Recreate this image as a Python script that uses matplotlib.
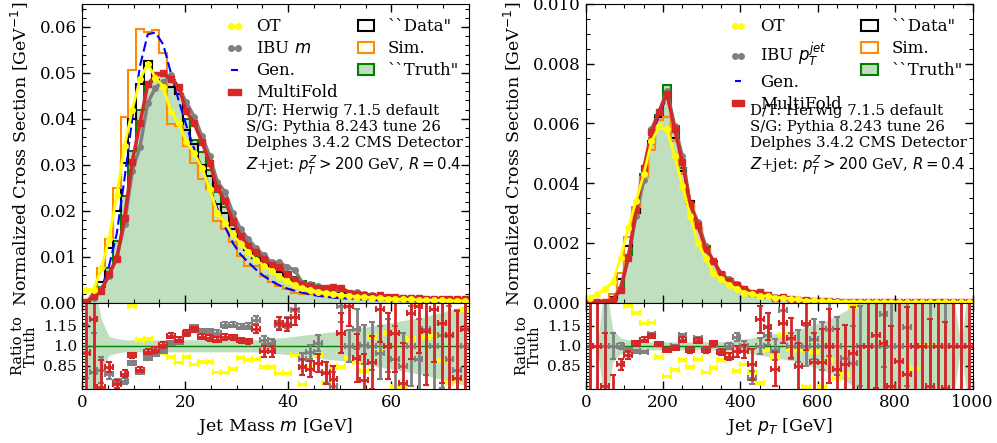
import matplotlib
matplotlib.use("Agg")
import matplotlib.pyplot as plt
import numpy as np
from matplotlib.patches import Patch
from matplotlib.lines import Line2D
from matplotlib.ticker import AutoMinorLocator, MultipleLocator, FixedLocator

plt.rcParams['font.family'] = ['DejaVu Serif']
plt.rcParams['mathtext.fontset'] = 'dejavusans'
plt.rcParams['xtick.direction'] = 'in'
plt.rcParams['ytick.direction'] = 'in'
plt.rcParams['xtick.top'] = True
plt.rcParams['ytick.right'] = True

# ---------------- jet mass (50 bins of 1.5 GeV) ----------------
m_edges = np.linspace(0, 75, 51)

truth_m = [0.0002, 0.0012, 0.0035, 0.0075, 0.0135, 0.0233, 0.0330, 0.0420, 0.0480, 0.0500,
           0.0500, 0.0485, 0.0455, 0.0400, 0.0355, 0.0327, 0.0288, 0.0240, 0.0208, 0.0168,
           0.0140, 0.0120, 0.0100, 0.0098, 0.0086, 0.0076, 0.0066, 0.0056, 0.0048, 0.0042,
           0.0036, 0.0032, 0.0028, 0.0025, 0.0022, 0.0020, 0.0018, 0.0016, 0.0014, 0.0013,
           0.0012, 0.0011, 0.0010, 0.0009, 0.0008, 0.0008, 0.0007, 0.0007, 0.0006, 0.0006]
data_m = [0.0003, 0.0015, 0.0045, 0.0120, 0.0200, 0.0305, 0.0400, 0.0475, 0.0525, 0.0485,
          0.0478, 0.0470, 0.0455, 0.0375, 0.0345, 0.0300, 0.0275, 0.0215, 0.0195, 0.0160,
          0.0132, 0.0115, 0.0098, 0.0085, 0.0075, 0.0066, 0.0058, 0.0050, 0.0043, 0.0038,
          0.0033, 0.0029, 0.0026, 0.0023, 0.0020, 0.0018, 0.0016, 0.0014, 0.0013, 0.0012,
          0.0011, 0.0010, 0.0009, 0.0008, 0.0008, 0.0007, 0.0007, 0.0006, 0.0006, 0.0005]
sim_m = [0.0005, 0.0015, 0.0075, 0.0138, 0.0250, 0.0405, 0.0507, 0.0596, 0.0590, 0.0593,
         0.0543, 0.0388, 0.0385, 0.0340, 0.0305, 0.0270, 0.0247, 0.0178, 0.0160, 0.0131,
         0.0102, 0.0080, 0.0080, 0.0059, 0.0046, 0.0037, 0.0030, 0.0022, 0.0020, 0.0018,
         0.0016, 0.0014, 0.0012, 0.0011, 0.0010, 0.0009, 0.0008, 0.0007, 0.0007, 0.0006,
         0.0006, 0.0005, 0.0005, 0.0004, 0.0004, 0.0003, 0.0003, 0.0003, 0.0002, 0.0002]
gen_m = [0.0002, 0.0008, 0.0030, 0.0080, 0.0150, 0.0270, 0.0400, 0.0515, 0.0584, 0.0588,
         0.0562, 0.0500, 0.0440, 0.0385, 0.0335, 0.0295, 0.0250, 0.0205, 0.0165, 0.0130,
         0.0105, 0.0088, 0.0072, 0.0058, 0.0047, 0.0038, 0.0031, 0.0026, 0.0022, 0.0018,
         0.0015, 0.0013, 0.0011, 0.0010, 0.0009, 0.0008, 0.0007, 0.0006, 0.0005, 0.0005,
         0.0004, 0.0004, 0.0003, 0.0003, 0.0003, 0.0002, 0.0002, 0.0002, 0.0002, 0.0002]
ot_m = [0.0028, 0.0028, 0.0075, 0.0138, 0.0235, 0.0340, 0.0420, 0.0486, 0.0520, 0.0490,
        0.0470, 0.0416, 0.0390, 0.0350, 0.0325, 0.0294, 0.0247, 0.0196, 0.0173, 0.0149,
        0.0128, 0.0110, 0.0093, 0.0080, 0.0070, 0.0055, 0.0048, 0.0038, 0.0031, 0.0028,
        0.0024, 0.0021, 0.0019, 0.0017, 0.0015, 0.0013, 0.0012, 0.0011, 0.0010, 0.0009,
        0.0008, 0.0007, 0.0007, 0.0006, 0.0006, 0.0005, 0.0005, 0.0004, 0.0004, 0.0004]
ibu_m = [0.0002, 0.0010, 0.0029, 0.0059, 0.0099, 0.0171, 0.0287, 0.0339, 0.0435, 0.0468,
         0.0480, 0.0495, 0.0467, 0.0436, 0.0405, 0.0363, 0.0320, 0.0263, 0.0241, 0.0195,
         0.0160, 0.0138, 0.0119, 0.0103, 0.0088, 0.0088, 0.0078, 0.0071, 0.0043, 0.0040,
         0.0037, 0.0026, 0.0020, 0.0033, 0.0022, 0.0023, 0.0018, 0.0016, 0.0013, 0.0013,
         0.0011, 0.0009, 0.0010, 0.0008, 0.0009, 0.0008, 0.0008, 0.0006, 0.0005, 0.0006]
multifold_m = [0.0002, 0.0014, 0.0025, 0.0063, 0.0096, 0.0184, 0.0307, 0.0390, 0.0475, 0.0495,
               0.0500, 0.0486, 0.0470, 0.0417, 0.0390, 0.0350, 0.0305, 0.0249, 0.0222, 0.0178,
               0.0146, 0.0124, 0.0110, 0.0096, 0.0083, 0.0077, 0.0062, 0.0050, 0.0040, 0.0036,
               0.0031, 0.0031, 0.0035, 0.0033, 0.0022, 0.0019, 0.0016, 0.0015, 0.0016, 0.0013,
               0.0012, 0.0011, 0.0011, 0.0010, 0.0009, 0.0009, 0.0008, 0.0008, 0.0007, 0.0007]

# ratio to truth (jet mass)
band_m = [0.60, 0.50, 0.20, 0.07, 0.055, 0.045, 0.045, 0.045, 0.045, 0.045,
          0.045, 0.045, 0.045, 0.045, 0.045, 0.045, 0.045, 0.045, 0.045, 0.045,
          0.045, 0.045, 0.045, 0.050, 0.055, 0.060, 0.065, 0.070, 0.080, 0.085,
          0.090, 0.100, 0.105, 0.110, 0.120, 0.130, 0.140, 0.150, 0.160, 0.170,
          0.180, 0.190, 0.200, 0.210, 0.220, 0.240, 0.250, 0.270, 0.280, 0.300]
ot_ratio_m = [1.5, 1.5, 1.5, 1.5, 1.5, 1.45, 1.30, 1.047, 1.054, 0.966,
              0.95, 0.92, 0.875, 0.92, 0.862, 0.882, 0.882, 0.80, 0.80, 0.825,
              0.91, 0.894, 0.90, 0.84, 0.84, 0.793, 0.793, 0.93, 0.71, 0.835,
              0.934, 0.72, 0.84, 0.84, 0.91, 0.875, 0.81, 1.07, 0.966, 1.096,
              0.69, 0.69, 1.05, 1.30, 1.07, 1.08, 0.89, 0.72, 0.74, 1.27]
ibu_ratio_m = [0.956, 0.80, 0.82, 0.79, 0.73, 0.735, 0.87, 0.806, 0.907, 0.936,
               0.96, 1.02, 1.027, 1.09, 1.14, 1.11, 1.11, 1.096, 1.157, 1.16,
               1.145, 1.15, 1.194, 1.047, 1.02, 1.157, 1.175, 1.27, 0.90, 0.953,
               1.02, 0.80, 0.70, 1.30, 1.00, 1.13, 1.01, 1.00, 0.95, 1.00,
               0.90, 0.85, 1.00, 0.90, 1.13, 1.00, 1.08, 0.90, 0.82, 1.00]
ibu_err_m = [0.20, 0.30, 0.10, 0.04, 0.02, 0.02, 0.015, 0.015, 0.015, 0.015,
             0.015, 0.015, 0.015, 0.015, 0.015, 0.02, 0.02, 0.02, 0.02, 0.02,
             0.02, 0.02, 0.03, 0.03, 0.03, 0.03, 0.04, 0.05, 0.05, 0.05,
             0.06, 0.08, 0.10, 0.12, 0.12, 0.15, 0.15, 0.18, 0.20, 0.20,
             0.25, 0.25, 0.30, 0.30, 0.35, 0.35, 0.40, 0.40, 0.45, 0.45]
mf_ratio_m = [0.95, 1.20, 0.69, 0.84, 0.71, 0.79, 0.93, 0.82, 0.956, 0.97,
              1.007, 1.076, 1.047, 1.096, 1.125, 1.07, 1.06, 1.047, 1.066, 1.065,
              1.042, 1.034, 1.125, 0.96, 0.96, 1.17, 1.16, 1.22, 0.84, 0.825,
              0.87, 0.796, 0.75, 1.096, 1.30, 0.91, 0.74, 0.875, 1.28, 1.00,
              1.10, 0.72, 1.25, 1.30, 1.108, 1.28, 1.17, 1.08, 0.76, 1.125]
mf_err_m = [0.50, 0.60, 0.20, 0.04, 0.03, 0.025, 0.02, 0.02, 0.02, 0.02,
            0.02, 0.02, 0.02, 0.02, 0.02, 0.02, 0.02, 0.02, 0.02, 0.02,
            0.02, 0.02, 0.03, 0.04, 0.04, 0.05, 0.05, 0.06, 0.06, 0.06,
            0.07, 0.08, 0.10, 0.15, 0.15, 0.18, 0.20, 0.20, 0.25, 0.25,
            0.30, 0.30, 0.35, 0.35, 0.40, 0.40, 0.45, 0.45, 0.50, 0.50]

# ---------------- jet pT (50 bins of 20 GeV) ----------------
pt_edges = np.linspace(0, 1000, 51)

truth_pt = [0.0, 0.0, 0.00002, 0.0001, 0.0005, 0.0016, 0.0030, 0.0043, 0.0053, 0.0063,
            0.0073, 0.0059, 0.0045, 0.0034, 0.0025, 0.0019, 0.0014, 0.0010, 0.00078, 0.0006,
            0.00047, 0.00037, 0.0003, 0.00024, 0.00019, 0.00016, 0.00013, 0.00011, 0.00009, 0.00008,
            0.00007, 0.00006, 0.00005, 0.00004, 0.00004, 0.00003, 0.00003, 0.00002, 0.00002, 0.00002,
            0.00002, 0.00001, 0.00001, 0.00001, 0.00001, 0.00001, 0.00001, 0.00001, 0.00001, 0.00001]
data_pt = [0.0, 0.0, 0.00005, 0.0002, 0.0008, 0.0019, 0.0030, 0.0042, 0.0054, 0.0062,
           0.0062, 0.0055, 0.0044, 0.0034, 0.0025, 0.0018, 0.0013, 0.0010, 0.00075, 0.00058,
           0.00045, 0.00036, 0.00029, 0.00023, 0.00019, 0.00015, 0.00012, 0.0001, 0.00009, 0.00007,
           0.00006, 0.00005, 0.00004, 0.00004, 0.00003, 0.00003, 0.00002, 0.00002, 0.00002, 0.00002,
           0.00001, 0.00001, 0.00001, 0.00001, 0.00001, 0.00001, 0.00001, 0.00001, 0.00001, 0.00001]
sim_pt = [0.0, 0.0, 0.00005, 0.0003, 0.0010, 0.0022, 0.0032, 0.0042, 0.0051, 0.0061,
          0.0062, 0.0054, 0.0043, 0.0033, 0.0025, 0.0018, 0.0013, 0.0010, 0.00075, 0.00058,
          0.00045, 0.00036, 0.00029, 0.00023, 0.00019, 0.00015, 0.00012, 0.0001, 0.00009, 0.00007,
          0.00006, 0.00005, 0.00004, 0.00004, 0.00003, 0.00003, 0.00002, 0.00002, 0.00002, 0.00002,
          0.00001, 0.00001, 0.00001, 0.00001, 0.00001, 0.00001, 0.00001, 0.00001, 0.00001, 0.00001]
gen_pt = [0.0, 0.0, 0.00002, 0.0001, 0.0005, 0.0015, 0.0030, 0.0044, 0.0055, 0.0063,
          0.0069, 0.0059, 0.0046, 0.0034, 0.0025, 0.0019, 0.0014, 0.0010, 0.00078, 0.0006,
          0.00047, 0.00037, 0.0003, 0.00024, 0.00019, 0.00016, 0.00013, 0.00011, 0.00009, 0.00008,
          0.00007, 0.00006, 0.00005, 0.00004, 0.00004, 0.00003, 0.00003, 0.00002, 0.00002, 0.00002,
          0.00002, 0.00001, 0.00001, 0.00001, 0.00001, 0.00001, 0.00001, 0.00001, 0.00001, 0.00001]
ot_pt = [0.00017, 0.0003, 0.00045, 0.0007, 0.0015, 0.0025, 0.0034, 0.0043, 0.0054, 0.0059,
         0.0058, 0.0049, 0.0039, 0.0029, 0.0020, 0.0015, 0.0010, 0.00078, 0.0006, 0.00047,
         0.00034, 0.0003, 0.00022, 0.00023, 0.00017, 0.00017, 0.00013, 0.00011, 0.00006, 0.00008,
         0.00005, 0.00005, 0.00004, 0.00003, 0.00004, 0.00002, 0.00002, 0.00002, 0.00002, 0.00002,
         0.00001, 0.00001, 0.00001, 0.00001, 0.00001, 0.00001, 0.00001, 0.00001, 0.00001, 0.00001]
ibu_pt = [0.0, 0.0, 0.00002, 0.0001, 0.0005, 0.00155, 0.0029, 0.0041, 0.0058, 0.0064,
          0.0071, 0.0059, 0.0049, 0.0033, 0.0027, 0.0019, 0.0014, 0.00096, 0.00078, 0.00064,
          0.00047, 0.00028, 0.0003, 0.00026, 0.00018, 0.0002, 0.00013, 0.00011, 0.00009, 0.00008,
          0.00007, 0.00007, 0.00005, 0.00004, 0.00003, 0.00003, 0.00003, 0.00002, 0.00002, 0.00002,
          0.00002, 0.00001, 0.00001, 0.00001, 0.00001, 0.00001, 0.00001, 0.00001, 0.00001, 0.00001]
multifold_pt = [0.00001, 0.00002, 0.00003, 0.0001, 0.00043, 0.0015, 0.0031, 0.0045, 0.0057, 0.0064,
                0.0070, 0.0058, 0.0047, 0.0033, 0.0026, 0.0018, 0.0014, 0.00095, 0.00072, 0.00058,
                0.00045, 0.00032, 0.00036, 0.00027, 0.00016, 0.00019, 0.00014, 0.00009, 0.0001, 0.00007,
                0.00006, 0.00006, 0.00004, 0.00003, 0.00004, 0.00002, 0.00003, 0.00002, 0.00002, 0.00001,
                0.00002, 0.00001, 0.00001, 0.00001, 0.00001, 0.00001, 0.00001, 0.00001, 0.00001, 0.00001]

band_pt = [0.0, 0.0, 0.50, 0.12, 0.06, 0.045, 0.035, 0.03, 0.03, 0.03,
           0.03, 0.03, 0.03, 0.03, 0.03, 0.03, 0.03, 0.03, 0.035, 0.045,
           0.05, 0.06, 0.07, 0.08, 0.09, 0.10, 0.11, 0.12, 0.14, 0.16,
           0.18, 0.20, 0.23, 0.26, 0.30, 0.40, 0.40, 0.40, 0.40, 0.40,
           0.40, 0.40, 0.40, 0.40, 0.40, 0.40, 0.40, 0.40, 0.0, 0.50]
ot_ratio_pt = [1.5, 1.5, 1.5, 1.5, 1.4, 1.3, 1.25, 1.17, 1.177, 0.92,
               0.77, 0.82, 0.894, 0.84, 0.90, 0.80, 0.833, 0.894, 0.95, 0.81,
               0.86, 0.80, 0.72, 0.97, 0.92, 1.08, 0.98, 0.966, 0.69, 0.953,
               0.69, 0.887, 0.757, 0.79, 1.30, 1.5, 1.5, 1.5, 1.5, 1.5,
               1.5, 1.5, 0.83, 1.0, 1.0, 1.5, 1.5, 1.5, 1.5, 1.5]
ibu_ratio_pt = [1.0, 1.0, 1.0, 1.0, 1.0, 0.97, 0.96, 0.953, 1.09, 1.017,
                0.968, 1.0, 1.08, 0.97, 1.06, 0.98, 1.01, 0.955, 1.0, 1.07,
                1.0, 0.76, 1.0, 1.08, 0.97, 1.27, 1.0, 1.0, 1.0, 1.054,
                1.0, 1.125, 1.0, 0.91, 0.87, 1.0, 1.0, 1.0, 1.24, 1.0,
                1.0, 1.145, 1.0, 1.0, 1.0, 1.0, 1.0, 1.0, 1.0, 1.0]
ibu_err_pt = [0.5, 0.5, 0.4, 0.1, 0.02, 0.015, 0.01, 0.01, 0.01, 0.01,
              0.01, 0.01, 0.01, 0.01, 0.01, 0.01, 0.015, 0.015, 0.02, 0.03,
              0.04, 0.05, 0.06, 0.07, 0.08, 0.10, 0.10, 0.12, 0.15, 0.15,
              0.18, 0.20, 0.22, 0.25, 0.28, 0.30, 0.35, 0.35, 0.40, 0.40,
              0.45, 0.45, 0.50, 0.50, 0.50, 0.50, 0.50, 0.50, 0.50, 0.50]
mf_ratio_pt = [1.0, 1.0, 0.70, 0.55, 0.86, 0.93, 1.02, 1.047, 1.076, 1.017,
               0.968, 0.985, 1.047, 0.97, 1.04, 0.97, 1.02, 0.953, 0.92, 0.96,
               0.96, 0.86, 1.20, 1.145, 0.825, 1.175, 1.06, 0.845, 1.17, 0.88,
               0.88, 1.00, 0.825, 0.86, 0.943, 0.65, 1.00, 1.08, 1.02, 0.70,
               0.887, 0.79, 1.00, 1.00, 0.70, 1.00, 0.68, 1.00, 1.00, 1.00]
mf_err_pt = [1.0, 0.5, 0.40, 0.23, 0.04, 0.03, 0.02, 0.02, 0.015, 0.015,
             0.015, 0.015, 0.02, 0.02, 0.02, 0.02, 0.02, 0.025, 0.03, 0.04,
             0.05, 0.12, 0.10, 0.10, 0.13, 0.15, 0.15, 0.18, 0.20, 0.22,
             0.25, 0.28, 0.30, 0.30, 0.35, 0.35, 0.40, 0.40, 0.45, 0.45,
             0.50, 0.50, 0.50, 0.50, 0.50, 0.50, 0.50, 0.50, 0.50, 0.50]

info = ("D/T: Herwig 7.1.5 default\n"
        "S/G: Pythia 8.243 tune 26\n"
        "Delphes 3.4.2 CMS Detector\n"
        "$Z$+jet: $p_T^Z>200$ GeV, $R=0.4$")

c_ot = '#ffff00'
c_ibu = 'grey'
c_mf = '#d62728'
c_gen = 'blue'
c_sim = 'darkorange'
c_truth = 'green'

fig = plt.figure(figsize=(9.97, 4.43), dpi=100)


def draw_panel(x0, edges, truth, data, sim, gen, ot, ibu, mf,
               band, ot_r, ibu_r, ibu_e, mf_r, mf_e,
               ymax, ymaj, yminor, xmaj, xlabel, ibu_label):
    ax = fig.add_axes([x0, 0.3167, 0.388, 0.6743])
    rx = fig.add_axes([x0, 0.1219, 0.388, 0.1948], sharex=ax)
    centers = 0.5 * (edges[1:] + edges[:-1])
    half = 0.5 * (edges[1] - edges[0])

    ax.stairs(truth, edges, fill=True, color=c_truth, alpha=0.25, lw=0)
    ax.stairs(truth, edges, color=c_truth, lw=1.5)
    ax.stairs(data, edges, color='black', lw=1.5)
    ax.stairs(sim, edges, color=c_sim, lw=1.5)
    ax.plot(centers, gen, color=c_gen, ls='--', dashes=(5, 2), lw=1.5)
    ax.plot(centers, ibu, color=c_ibu, marker='o', ms=4, lw=2.5)
    ax.plot(centers, mf, color=c_mf, marker='s', ms=4.5, lw=2.5)
    ax.plot(centers, ot, color=c_ot, marker='o', ms=4, lw=2, clip_on=False)

    ax.set_xlim(edges[0], edges[-1])
    ax.set_ylim(0, ymax)
    ax.yaxis.set_major_locator(MultipleLocator(ymaj))
    ax.yaxis.set_minor_locator(AutoMinorLocator(yminor))
    ax.xaxis.set_major_locator(MultipleLocator(xmaj))
    ax.xaxis.set_minor_locator(AutoMinorLocator(4))
    ax.tick_params(labelbottom=False)
    ax.set_ylabel('Normalized Cross Section [GeV$^{-1}$]', fontsize=12.5, labelpad=7)

    handles = [
        Line2D([], [], color=c_ot, marker='o', ms=4, lw=2),
        Line2D([], [], color=c_ibu, marker='o', ms=4, lw=2),
        Line2D([], [], color=c_gen, ls='--', dashes=(5, 2), lw=1.5),
        Line2D([], [], color=c_mf, marker='s', ms=4.5, lw=2),
        Patch(facecolor='none', edgecolor='black', lw=1.5),
        Patch(facecolor='none', edgecolor=c_sim, lw=1.5),
        Patch(facecolor=(0, 0.5, 0, 0.25), edgecolor=c_truth, lw=1.5),
    ]
    labels = ['OT', ibu_label, 'Gen.', 'MultiFold', '``Data"', 'Sim.', '``Truth"']
    ax.legend(handles, labels, ncol=2, frameon=False, loc='upper right',
              fontsize=12, handlelength=1.0, numpoints=2, columnspacing=1.2,
              handletextpad=0.8, labelspacing=0.3,
              bbox_to_anchor=(1.0, 0.985), borderaxespad=0.2)
    ax.text(0.425, 0.665, info, transform=ax.transAxes, va='top', ha='left',
            fontsize=10.7, linespacing=1.2)

    # ratio panel
    lo = [1 - b for b in band]
    hi = [1 + b for b in band]
    rx.fill_between(centers, lo, hi, color=c_truth, alpha=0.25, lw=0)
    rx.axhline(1.0, color=c_truth, lw=1)
    rx.errorbar(centers, ot_r, xerr=half, yerr=0.005, fmt='none', ecolor=c_ot,
                elinewidth=2, capsize=2, capthick=1.5)
    rx.errorbar(centers, ibu_r, xerr=half, yerr=ibu_e, fmt='none', ecolor=c_ibu,
                elinewidth=2, capsize=2.5, capthick=1.5)
    rx.errorbar(centers, mf_r, xerr=half, yerr=mf_e, fmt='none', ecolor=c_mf,
                elinewidth=2, capsize=2.5, capthick=1.5)
    rx.set_ylim(0.676, 1.324)
    rx.yaxis.set_major_locator(FixedLocator([0.85, 1.0, 1.15]))
    rx.set_yticklabels(['0.85', '1.0', '1.15'])
    rx.yaxis.set_minor_locator(MultipleLocator(0.025))
    rx.tick_params(axis='y', labelsize=11)
    rx.tick_params(axis='x', labelsize=12)
    rx.set_ylabel('Ratio to\nTruth', fontsize=10.5, linespacing=0.9, labelpad=4)
    rx.set_xlabel(xlabel, fontsize=12.5)

    for a in (ax, rx):
        a.tick_params(which='major', length=6, width=1)
        a.tick_params(which='minor', length=3, width=0.8)
    ax.tick_params(axis='y', labelsize=12)
    return ax, rx


axL, rxL = draw_panel(0.0822, m_edges, truth_m, data_m, sim_m, gen_m, ot_m, ibu_m, multifold_m,
                      band_m, ot_ratio_m, ibu_ratio_m, ibu_err_m, mf_ratio_m, mf_err_m,
                      0.065, 0.01, 5, 20, 'Jet Mass $m$ [GeV]', 'IBU $m$')
axL.yaxis.set_major_formatter(plt.FormatStrFormatter('%.2f'))

axR, rxR = draw_panel(0.5875, pt_edges, truth_pt, data_pt, sim_pt, gen_pt, ot_pt, ibu_pt, multifold_pt,
                      band_pt, ot_ratio_pt, ibu_ratio_pt, ibu_err_pt, mf_ratio_pt, mf_err_pt,
                      0.010, 0.002, 4, 200, 'Jet $p_T$ [GeV]', 'IBU $p_T^{jet}$')
axR.yaxis.set_major_formatter(plt.FormatStrFormatter('%.3f'))

fig.savefig('out.png', dpi=100)
